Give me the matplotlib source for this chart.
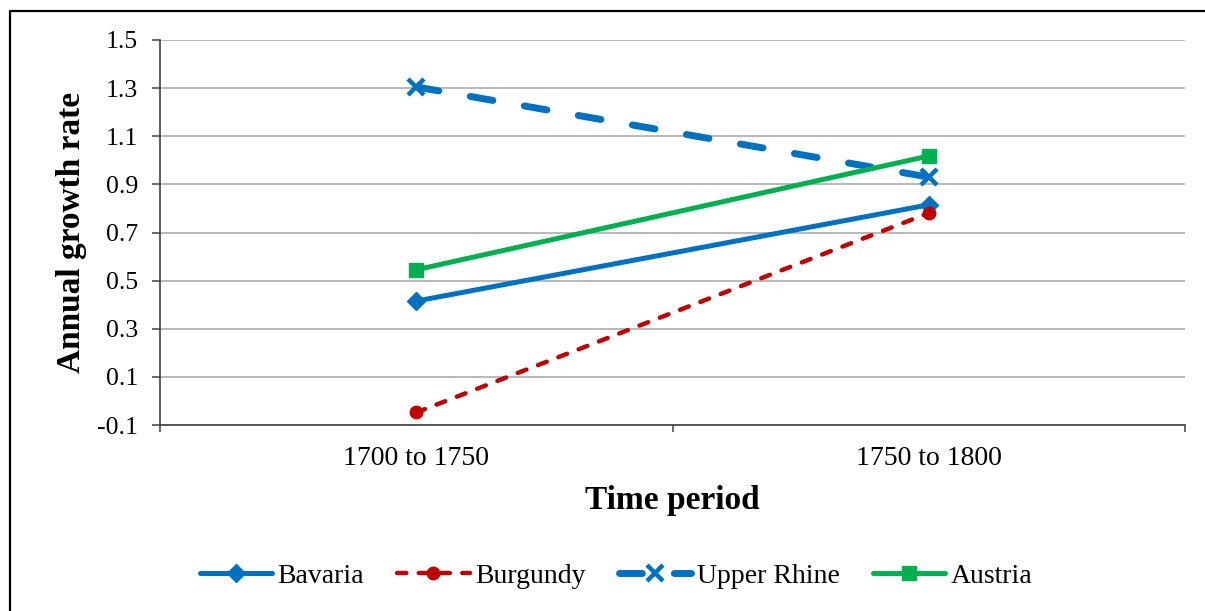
import matplotlib.pyplot as plt
from matplotlib.lines import Line2D

periods = ['1700 to 1750', '1750 to 1800']
bavaria = [0.415, 0.815]
burgundy = [-0.048, 0.781]
upper_rhine = [1.305, 0.93]
austria = [0.545, 1.018]
y_ticks = [-0.1, 0.1, 0.3, 0.5, 0.7, 0.9, 1.1, 1.3, 1.5]

plt.rcParams['font.family'] = ['Liberation Serif', 'DejaVu Serif']

fig = plt.figure(figsize=(12.05, 6.11), dpi=100)
ax = fig.add_axes([160 / 1205, 1 - 425 / 611, 1025 / 1205, 385 / 611])

x = list(range(len(periods)))
ax.plot(x, bavaria, color='#0070C0', lw=3.6, marker='D', ms=9.5,
        solid_capstyle='round', label='Bavaria')
ax.plot(x, burgundy, color='#C00000', lw=3.2, ls=(0, (2.1, 2.8)), marker='o', ms=9,
        dash_capstyle='round', label='Burgundy')
ax.plot(x, upper_rhine, color='#0070C0', lw=5.0, ls=(0, (3.3, 4.6)), marker='x', ms=12,
        mew=3.2, dash_capstyle='round', label='Upper Rhine')
ax.plot(x, austria, color='#00B050', lw=3.6, marker='s', ms=10,
        solid_capstyle='round', label='Austria')

ax.set_xlim(-0.5, len(periods) - 0.5)
ax.set_ylim(y_ticks[0], y_ticks[-1])
ax.set_yticks(y_ticks)
ax.set_yticklabels([f'{v:.1f}' for v in y_ticks], fontsize=18.5)
ax.set_xticks(x)
ax.set_xticklabels(periods, fontsize=20)
ax.set_xticks([-0.5, 0.5, 1.5], minor=True)
ax.tick_params(axis='x', which='major', length=0, pad=15)
ax.tick_params(axis='x', which='minor', length=5, width=1.1, color='#404040', direction='out')
ax.tick_params(axis='y', length=6, width=1.1, color='#404040', direction='out', pad=10)

ax.grid(axis='y', color='#A6A6A6', lw=1.1)
ax.set_axisbelow(True)
for side in ['top', 'right']:
    ax.spines[side].set_visible(False)
for side in ['left', 'bottom']:
    ax.spines[side].set_color('#404040')
    ax.spines[side].set_linewidth(1.2)

ax.set_ylabel('Annual growth rate', fontsize=24, fontweight='bold', va='center')
ax.yaxis.set_label_coords((72 - 160) / 1025, 0.5)
ax.set_xlabel('Time period', fontsize=24, fontweight='bold', va='center')
ax.xaxis.set_label_coords(0.5, (425 - 500) / 385)

fig.legend(loc='center', bbox_to_anchor=(616 / 1205, 1 - 576 / 611), ncol=4,
           frameon=False, fontsize=20, handlelength=2.6, handletextpad=0.2,
           columnspacing=1.2)

# outer frame (cut off at right and bottom)
x0 = 9.5 / 1205
y0 = 1 - 10.5 / 611
fig.add_artist(Line2D([x0, x0, 1.0], [0.0, y0, y0], transform=fig.transFigure,
                      color='black', lw=1.6))

fig.savefig('out.png', dpi=100)
